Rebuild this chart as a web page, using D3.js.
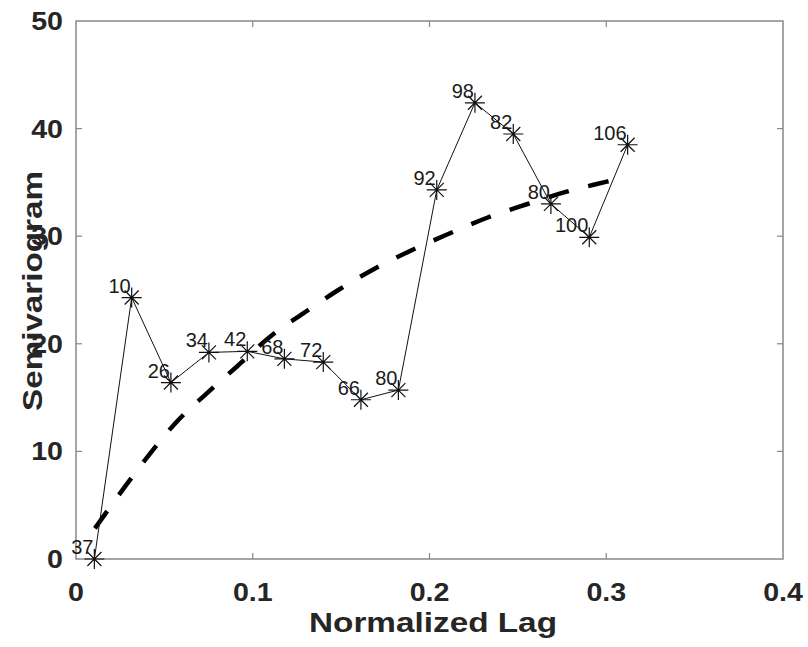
<!DOCTYPE html>
<html>
<head>
<meta charset="utf-8">
<style>
  body { margin: 0; background: #fff; }
  .tick-label { font-family: "Liberation Sans", Arial, sans-serif; font-weight: bold; font-size: 25.5px; fill: #262626; }
  .axis-label { font-family: "Liberation Sans", Arial, sans-serif; font-weight: bold; font-size: 27px; fill: #262626; }
  .pt-label { font-family: "Liberation Sans", Arial, sans-serif; font-size: 20px; fill: #1a1a1a; }
  .frame { fill: none; stroke: #888; stroke-width: 1.5; }
  .tick { stroke: #888; stroke-width: 1.2; }
  .data-line { fill: none; stroke: #111; stroke-width: 1; }
  .star { fill: none; stroke: #111; stroke-width: 1.2; }
  .model { fill: none; stroke: #000; stroke-width: 4.5; stroke-dasharray: 21 20; }
</style>
</head>
<body>
<svg class="chart"></svg>
<script src="https://cdn.jsdelivr.net/npm/d3@7"></script>
<script>
  // empirical semivariogram
  var lags = [0.0104, 0.0315, 0.0537, 0.0752, 0.0969, 0.1179, 0.1399, 0.1612,
              0.1824, 0.2041, 0.2257, 0.2474, 0.2687, 0.2904, 0.3121];
  var gammas = [0.0, 24.3, 16.4, 19.2, 19.3, 18.6, 18.3, 14.8,
                15.7, 34.3, 42.4, 39.5, 33.0, 29.9, 38.5];
  // number of pairs per lag bin
  var pairCounts = ["37", "10", "26", "34", "42", "68", "72", "66",
                    "80", "92", "98", "82", "80", "100", "106"];

  // fitted model
  var modelLags = [0.0107, 0.0277, 0.0419, 0.057, 0.074, 0.0909, 0.1098, 0.1286,
                   0.1484, 0.1692, 0.1899, 0.2116, 0.2333, 0.255, 0.2776, 0.3003, 0.306];
  var modelGammas = [2.85, 6.72, 9.8, 12.76, 15.4, 17.87, 20.66, 22.83,
                     25.0, 27.0, 28.7, 30.27, 31.76, 32.97, 34.14, 35.07, 35.3];

  var xTicks = [0, 0.1, 0.2, 0.3, 0.4];
  var yTicks = [0, 10, 20, 30, 40, 50];

  var width = 808, height = 647;
  var margin = {left: 76, top: 21, right: 25, bottom: 88};

  var svg = d3.select(".chart")
    .attr("width", width)
    .attr("height", height);

  var x = d3.scaleLinear().domain([0, 0.4]).range([margin.left, width - margin.right]);
  var y = d3.scaleLinear().domain([0, 50]).range([height - margin.bottom, margin.top]);

  var x0 = x.range()[0], x1 = x.range()[1];
  var y0 = y.range()[0], y1 = y.range()[1];
  var tickLen = 6;

  // box
  svg.append("rect")
    .attr("class", "frame")
    .attr("x", x0).attr("y", y1)
    .attr("width", x1 - x0).attr("height", y0 - y1);

  // inner ticks on all four sides
  xTicks.slice(1, -1).forEach(function(t) {
    svg.append("line").attr("class", "tick")
      .attr("x1", x(t)).attr("x2", x(t)).attr("y1", y0).attr("y2", y0 - tickLen);
    svg.append("line").attr("class", "tick")
      .attr("x1", x(t)).attr("x2", x(t)).attr("y1", y1).attr("y2", y1 + tickLen);
  });
  yTicks.slice(1, -1).forEach(function(t) {
    svg.append("line").attr("class", "tick")
      .attr("x1", x0).attr("x2", x0 + tickLen).attr("y1", y(t)).attr("y2", y(t));
    svg.append("line").attr("class", "tick")
      .attr("x1", x1).attr("x2", x1 - tickLen).attr("y1", y(t)).attr("y2", y(t));
  });

  // slightly widened glyphs, as in the original export
  function widen(sel, k) {
    sel.each(function() {
      var w = this.getComputedTextLength();
      d3.select(this)
        .attr("textLength", w * k)
        .attr("lengthAdjust", "spacingAndGlyphs");
    });
  }

  // tick labels
  svg.selectAll(".xtl")
    .data(xTicks)
    .enter()
    .append("text")
    .attr("class", "tick-label")
    .attr("text-anchor", "middle")
    .attr("x", function(d) { return x(d); })
    .attr("y", y0 + 42)
    .text(function(d) { return d3.format("")(d); })
    .call(widen, 1.12);

  svg.selectAll(".ytl")
    .data(yTicks)
    .enter()
    .append("text")
    .attr("class", "tick-label")
    .attr("text-anchor", "end")
    .attr("x", x0 - 13)
    .attr("y", function(d) { return y(d) + 9; })
    .text(function(d) { return d; })
    .call(widen, 1.12);

  // axis labels
  svg.append("text")
    .attr("class", "axis-label")
    .attr("x", 309)
    .attr("y", 632)
    .attr("textLength", 248)
    .attr("lengthAdjust", "spacingAndGlyphs")
    .text("Normalized Lag");

  svg.append("text")
    .attr("class", "axis-label")
    .attr("transform", "translate(42, 411) rotate(-90)")
    .attr("x", 0)
    .attr("y", 0)
    .attr("textLength", 240)
    .attr("lengthAdjust", "spacingAndGlyphs")
    .text("Semivariogram");

  // model curve
  var modelLine = d3.line()
    .x(function(d, i) { return x(modelLags[i]); })
    .y(function(d) { return y(d); })
    .curve(d3.curveMonotoneX);

  svg.append("path")
    .attr("class", "model")
    .attr("d", modelLine(modelGammas));

  // empirical line
  var dataLine = d3.line()
    .x(function(d, i) { return x(lags[i]); })
    .y(function(d) { return y(d); });

  svg.append("path")
    .attr("class", "data-line")
    .attr("d", dataLine(gammas));

  // star markers
  var starPath = "M-10,0H10M0,-10V10M-7,-7L7,7M-7,7L7,-7";
  svg.selectAll(".star")
    .data(gammas)
    .enter()
    .append("path")
    .attr("class", "star")
    .attr("transform", function(d, i) {
      return "translate(" + x(lags[i]) + "," + y(d) + ")";
    })
    .attr("d", starPath);

  // pair count labels
  svg.selectAll(".pt-label")
    .data(gammas)
    .enter()
    .append("text")
    .attr("class", "pt-label")
    .attr("text-anchor", "end")
    .attr("x", function(d, i) { return x(lags[i]) - 1; })
    .attr("y", function(d) { return y(d) - 5; })
    .text(function(d, i) { return pairCounts[i]; });
</script>
</body>
</html>
